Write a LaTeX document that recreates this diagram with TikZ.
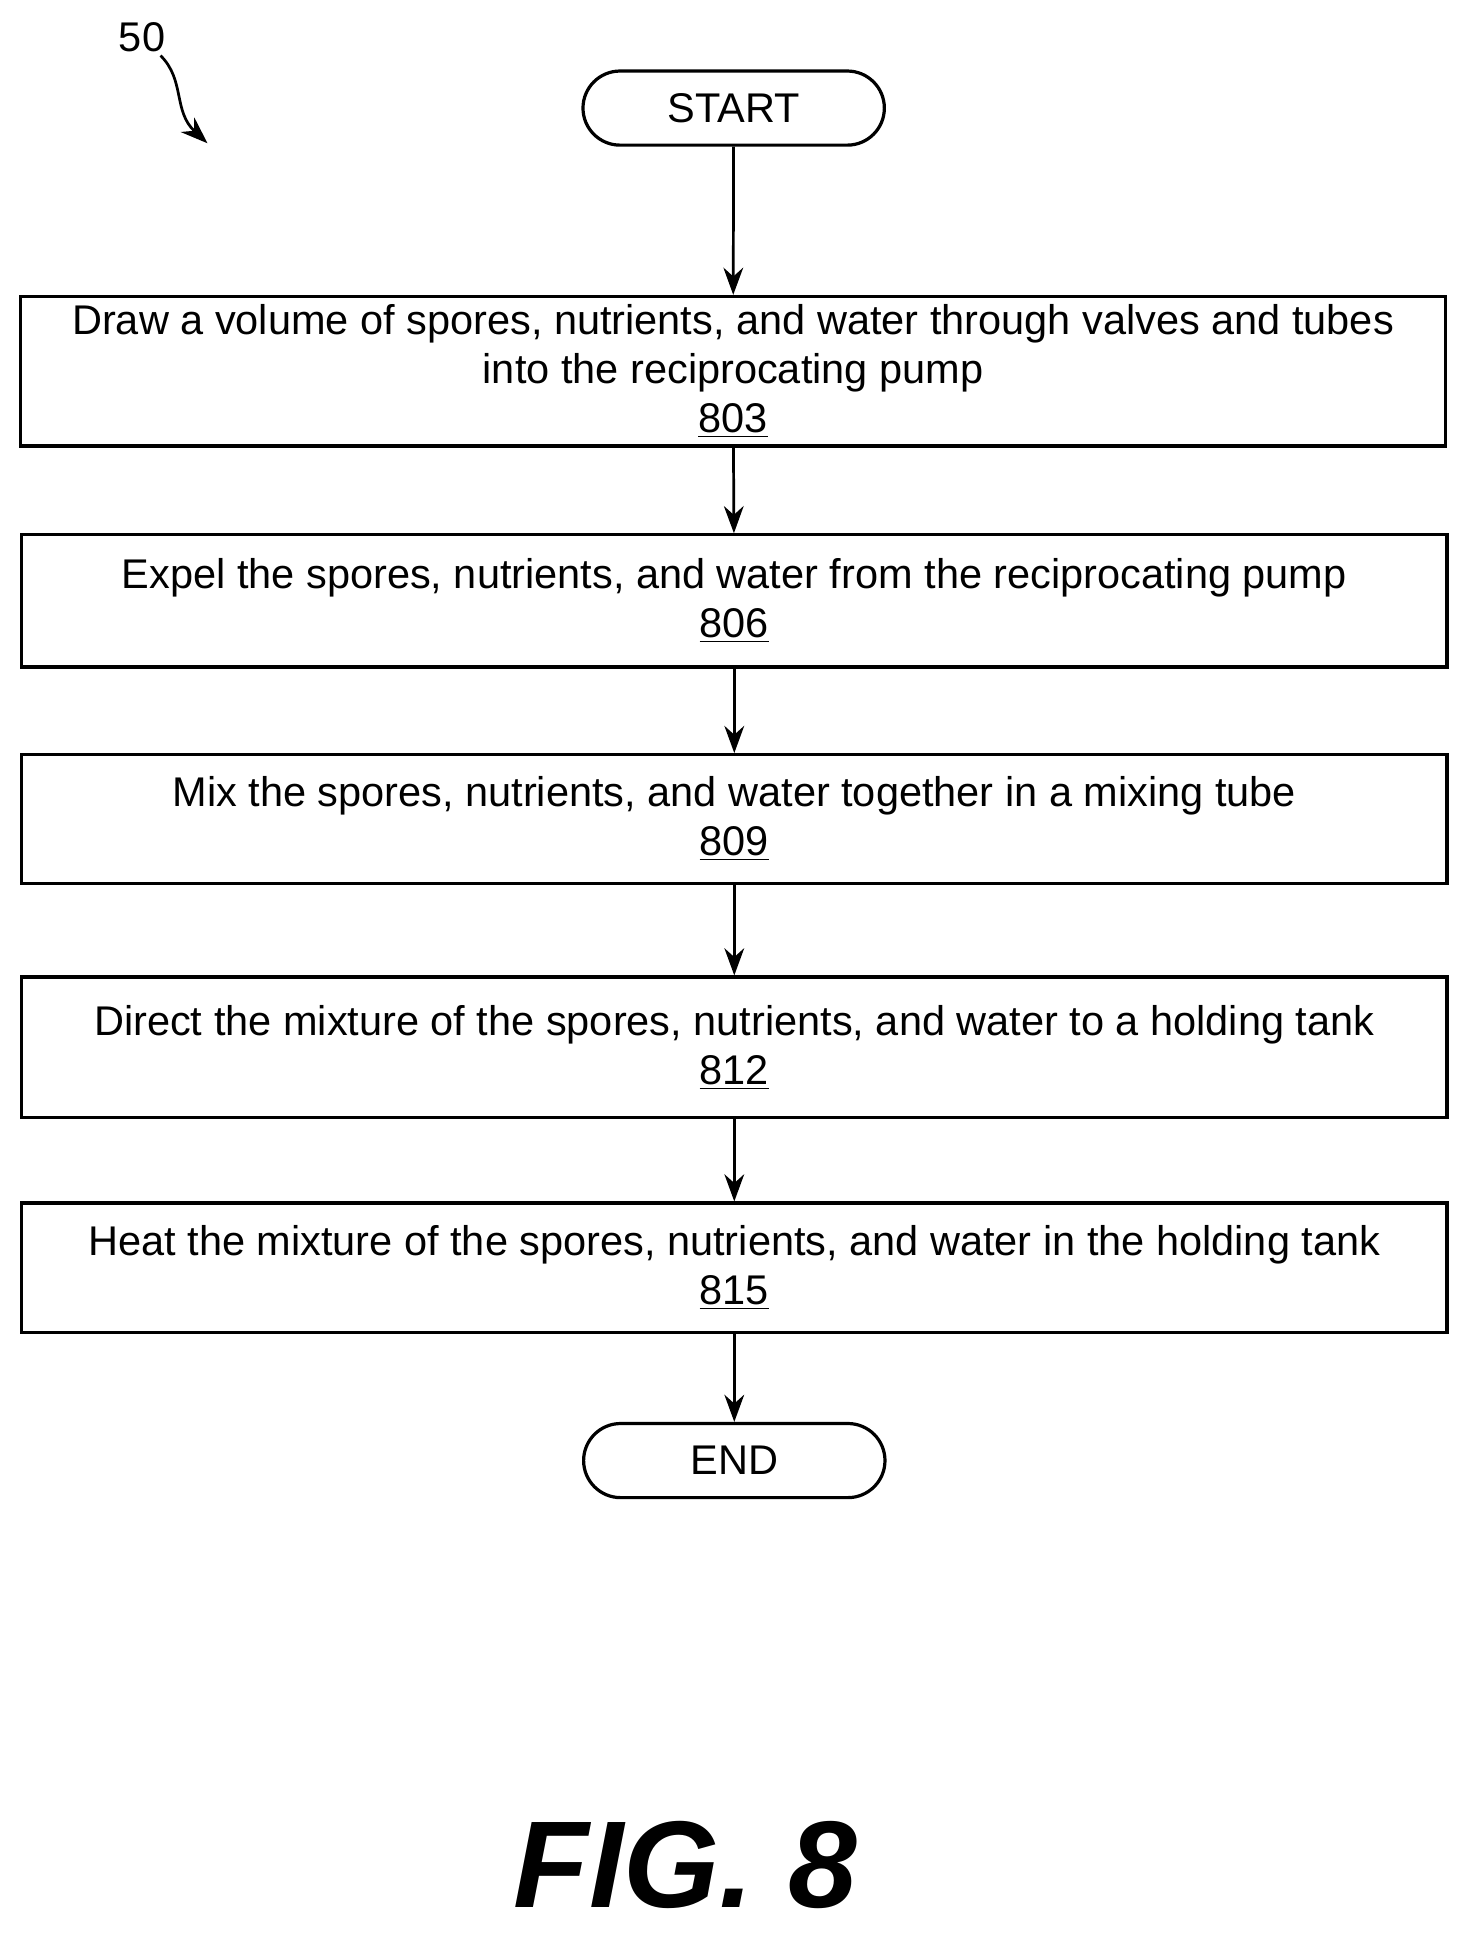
\documentclass[tikz,border=0pt]{standalone}
\usepackage{fontspec}
\setmainfont{Liberation Sans}
\usetikzlibrary{arrows.meta}
\begin{document}
\begin{tikzpicture}[x=0.5pt,y=-0.5pt,
  box/.style={draw,line width=1.3pt,minimum width=577pt,inner sep=0pt,align=center,font=\fontsize{16.8}{20}\selectfont},
  term/.style={draw,line width=1.3pt,rounded corners=15pt,minimum width=122pt,minimum height=30pt,inner sep=0pt,font=\fontsize{16.8}{20}\selectfont},
  arr/.style={-{Stealth[length=11pt,width=8pt]},line width=1.1pt}]
\useasboundingbox (0,0) rectangle (1188,1565);
\node[term] (s) at (594,87.5) {START};
\node[box,minimum height=60.5pt] (b1) at (593.5,300.5) {Draw a volume of spores, nutrients, and water through valves and tubes\\into the reciprocating pump\\\underline{803}};
\node[box,minimum height=53.5pt] (b2) at (594.5,486.5) {Expel the spores, nutrients, and water from the reciprocating pump\\\underline{806}};
\node[box,minimum height=52pt] (b3) at (594.5,663) {Mix the spores, nutrients, and water together in a mixing tube\\\underline{809}};
\node[box,minimum height=57pt] (b4) at (594.5,848) {Direct the mixture of the spores, nutrients, and water to a holding tank\\\underline{812}};
\node[box,minimum height=52.5pt] (b5) at (594.5,1026.5) {Heat the mixture of the spores, nutrients, and water in the holding tank\\\underline{815}};
\node[term] (e) at (594.5,1182.5) {END};
\draw[arr] (s) -- (b1);
\draw[arr] (b1) -- (b2);
\draw[arr] (b2) -- (b3);
\draw[arr] (b3) -- (b4);
\draw[arr] (b4) -- (b5);
\draw[arr] (b5) -- (e);
\node[font=\fontsize{16.8}{20}\selectfont] (n50) at (115,30) {50};
\coordinate (t50) at (168,116);
\draw[arr] (130,45) .. controls (150,65) and (140,90) .. (t50);
\node[font=\fontsize{50}{60}\selectfont\bfseries\itshape] (fig) at (555,1510) {FIG. 8};
\end{tikzpicture}
\end{document}
